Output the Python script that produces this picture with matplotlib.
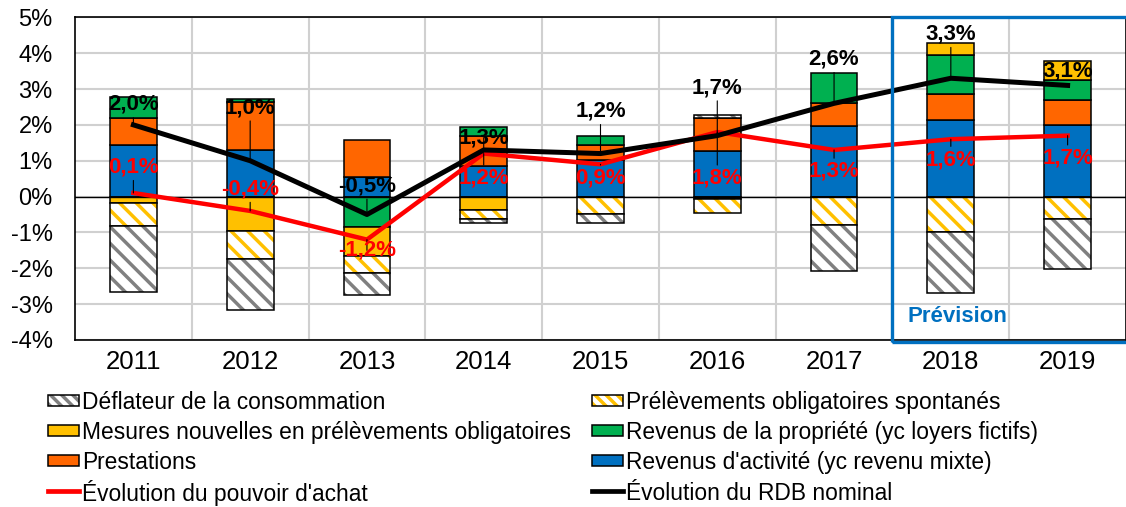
import matplotlib
matplotlib.use('Agg')
import matplotlib.pyplot as plt
from matplotlib.patches import Rectangle
from matplotlib.lines import Line2D
import numpy as np

plt.rcParams['font.family'] = ['Liberation Sans', 'DejaVu Sans']
plt.rcParams['hatch.linewidth'] = 2.5

# données (contributions en points de %)
years = ['2011', '2012', '2013', '2014', '2015', '2016', '2017', '2018', '2019']
activite = [1.43, 1.31, 0.54, 0.86, 1.03, 1.28, 1.98, 2.13, 2.01]
prestations = [0.77, 1.32, 1.03, 0.82, 0.42, 0.90, 0.64, 0.72, 0.68]
propriete = [0.58, 0.10, -0.86, 0.26, 0.23, -0.07, 0.82, 1.10, 0.55]
mesures = [-0.19, -0.95, -0.79, -0.37, 0.0, 0.0, 0.0, 0.33, 0.54]
spontanes = [-0.63, -0.78, -0.47, -0.26, -0.49, -0.40, -0.79, -0.99, -0.63]
deflateur = [-1.84, -1.42, -0.63, -0.10, -0.26, 0.10, -1.28, -1.69, -1.40]
rdb_nominal = [2.0, 1.0, -0.5, 1.3, 1.2, 1.7, 2.6, 3.3, 3.1]
pouvoir_achat = [0.1, -0.4, -1.2, 1.2, 0.9, 1.8, 1.3, 1.6, 1.7]

# position des étiquettes (y)
rdb_lab_y = [2.57, 2.48, 0.30, 1.64, 2.38, 3.04, 3.83, 4.53, 3.50]
pa_lab_y = [0.82, 0.21, -1.50, 0.51, 0.51, 0.51, 0.70, 1.03, 1.07]

BLUE = '#0070C0'
ORANGE = '#FF6600'
GREEN = '#00B050'
YELLOW = '#FFC000'
GREY = '#808080'
RED = '#FF0000'

W, H = 1126, 507
fig = plt.figure(figsize=(W / 100, H / 100), dpi=100)
ax = fig.add_axes([75 / W, 1 - 340 / H, 1 - 75 / W, (340 - 17.3) / H])

x = np.arange(len(years))
w = 0.40
series = [
    (activite, BLUE, None),
    (prestations, ORANGE, None),
    (propriete, GREEN, None),
    (mesures, YELLOW, None),
    (spontanes, YELLOW, '\\\\'),
    (deflateur, GREY, '\\\\'),
]
pos = np.zeros(len(years))
neg = np.zeros(len(years))
for vals, col, hatch in series:
    v = np.array(vals)
    bottom = np.where(v > 0, pos, neg)
    if hatch is None:
        ax.bar(x, v, w, bottom=bottom, color=col, edgecolor='black', lw=1.1, zorder=3)
    else:
        ax.bar(x, v, w, bottom=bottom, color='white', edgecolor=col, hatch=hatch, lw=0, zorder=3)
        ax.bar(x, v, w, bottom=bottom, fill=False, edgecolor='black', lw=1.1, zorder=3)
    pos = pos + np.where(v > 0, v, 0)
    neg = neg + np.where(v > 0, 0, v)

ax.axhline(0, color='black', lw=1.0, zorder=4)
ax.plot(x, pouvoir_achat, color=RED, lw=3.2, zorder=5)
ax.plot(x, rdb_nominal, color='black', lw=3.6, zorder=6)

for i in range(len(years)):
    t = ('%.1f%%' % rdb_nominal[i]).replace('.', ',')
    ax.annotate(t, xy=(x[i], rdb_nominal[i]), xytext=(x[i], rdb_lab_y[i]),
                ha='center', va='center', fontsize=16, fontweight='bold', color='black',
                arrowprops=dict(arrowstyle='-', lw=0.8, color='black', shrinkA=0, shrinkB=0),
                zorder=8)
    t = ('%.1f%%' % pouvoir_achat[i]).replace('.', ',')
    ax.annotate(t, xy=(x[i], pouvoir_achat[i]), xytext=(x[i], pa_lab_y[i]),
                ha='center', va='center', fontsize=16, fontweight='bold', color=RED,
                arrowprops=dict(arrowstyle='-', lw=0.8, color='black', shrinkA=0, shrinkB=0),
                zorder=8)

ax.set_xlim(-0.5, 8.5)
ax.set_ylim(-4, 5)
ax.set_yticks(range(-4, 6))
ax.set_yticklabels(['%d%%' % v for v in range(-4, 6)])
ax.set_xticks(x)
ax.set_xticklabels(years)
ax.set_xticks(np.arange(0.5, 8, 1), minor=True)
ax.tick_params(axis='y', length=0, pad=16, labelsize=17)
ax.tick_params(axis='x', length=0, pad=7, labelsize=18.5)
ax.tick_params(which='minor', length=0)
ax.grid(axis='y', color='#D0D0D0', lw=1.5, zorder=0)
ax.grid(axis='x', which='minor', color='#D0D0D0', lw=1.5, zorder=0)
ax.set_axisbelow(True)
for s in ax.spines.values():
    s.set_color('black')
    s.set_linewidth(1.2)

# cadre prévision
ax.add_patch(Rectangle((6.5, -4.05), 2.2, 9.05, fill=False, ec=BLUE, lw=2.4,
                       clip_on=False, zorder=9))
ax.text(6.63, -3.34, 'Prévision', color=BLUE, fontsize=16, fontweight='bold',
        ha='left', va='center', zorder=9)

# légende (dessinée à la main, 2 colonnes)
leg_items = [
    ('Déflateur de la consommation', 'hatch', GREY),
    ('Prélèvements obligatoires spontanés', 'hatch', YELLOW),
    ('Mesures nouvelles en prélèvements obligatoires', 'box', YELLOW),
    ('Revenus de la propriété (yc loyers fictifs)', 'box', GREEN),
    ('Prestations', 'box', ORANGE),
    ("Revenus d'activité (yc revenu mixte)", 'box', BLUE),
    ("Évolution du pouvoir d'achat", 'line', RED),
    ('Évolution du RDB nominal', 'line', 'black'),
]
col_x = [48, 592]
row_y = [400, 430, 460, 491]
hw, hh = 31, 11
for k, (lab, kind, col) in enumerate(leg_items):
    px = col_x[k % 2]
    py = row_y[k // 2]
    x0, y0 = px / W, 1 - (py + hh / 2) / H
    if kind == 'line':
        fig.add_artist(Line2D([px / W, (px + hw) / W], [1 - py / H, 1 - py / H],
                              color=col, lw=3.4, transform=fig.transFigure))
    elif kind == 'hatch':
        fig.add_artist(Rectangle((x0, y0), hw / W, hh / H, facecolor='white', edgecolor=col,
                                 hatch='\\\\\\', lw=0, transform=fig.transFigure))
        fig.add_artist(Rectangle((x0, y0), hw / W, hh / H, fill=False, edgecolor='black',
                                 lw=1.1, transform=fig.transFigure))
    else:
        fig.add_artist(Rectangle((x0, y0), hw / W, hh / H, facecolor=col, edgecolor='black',
                                 lw=1.1, transform=fig.transFigure))
    fig.text((px + hw + 3) / W, 1 - py / H, lab, fontsize=16.4, ha='left', va='center_baseline')

fig.savefig('out.png', dpi=100)
